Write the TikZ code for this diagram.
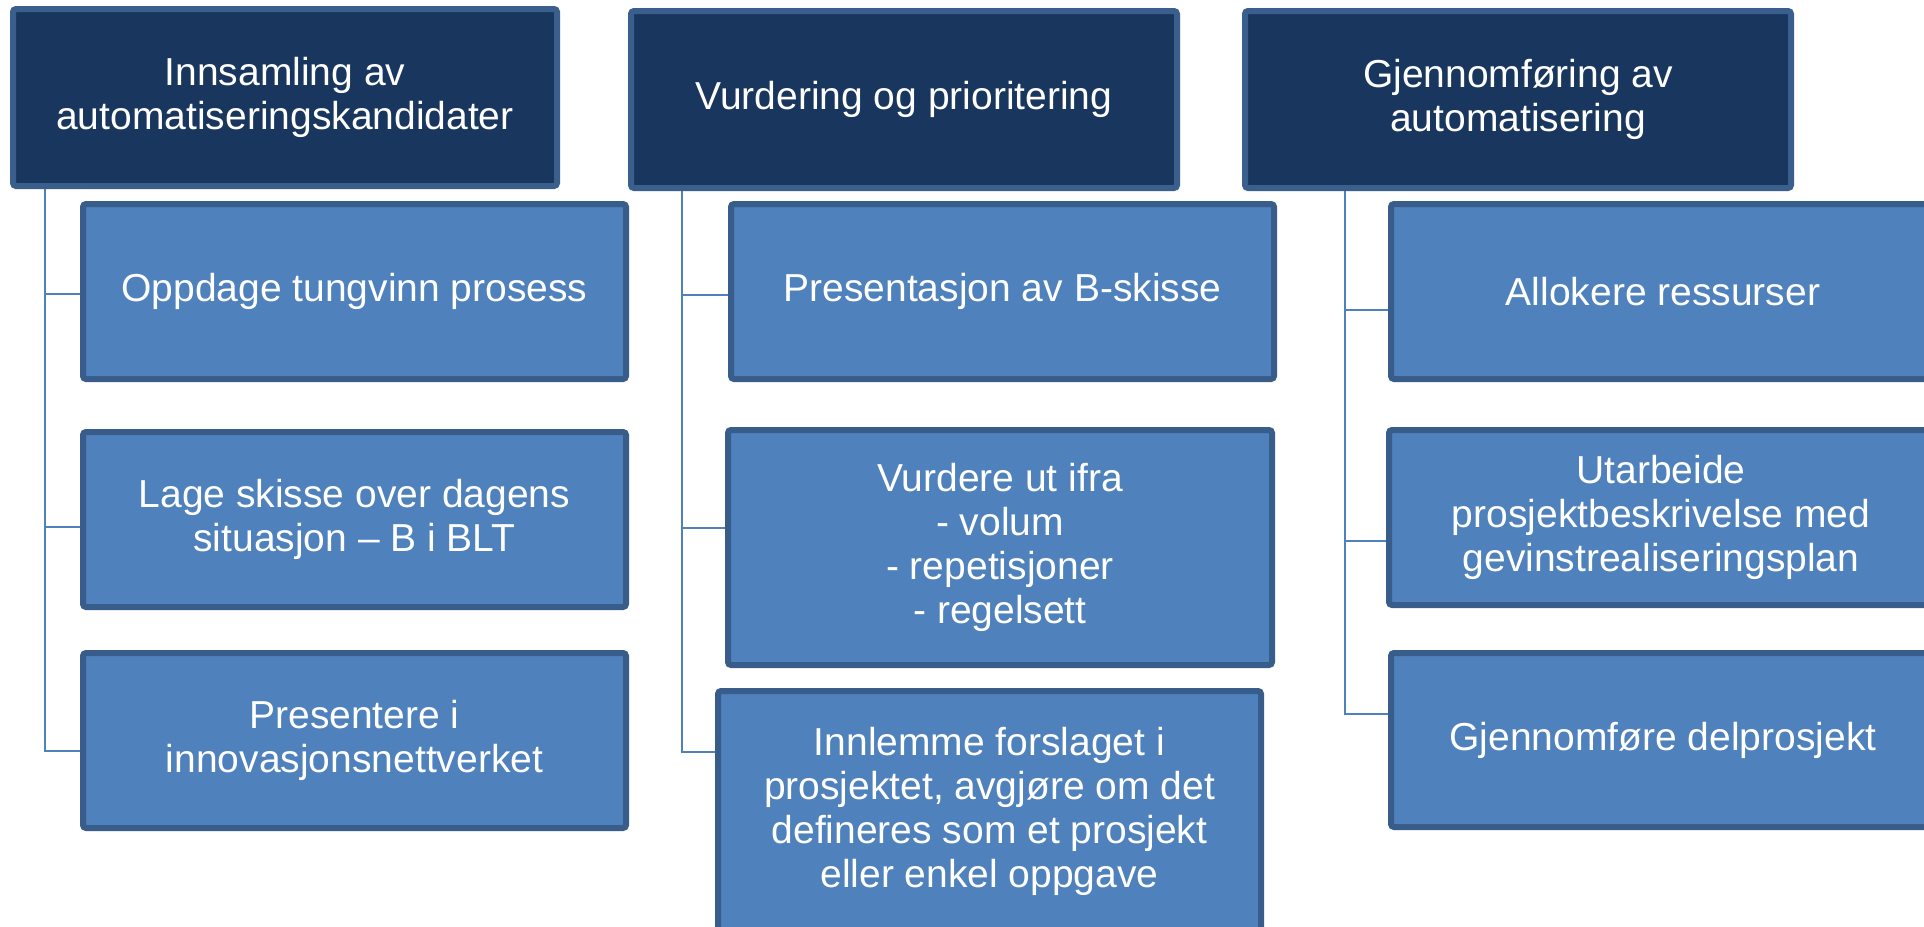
\documentclass[tikz,border=0pt]{standalone}
\usepackage{fontspec}
\setmainfont{Liberation Sans}
\usetikzlibrary{backgrounds}
\definecolor{headfill}{RGB}{24,54,94}
\definecolor{headline}{RGB}{58,95,140}
\definecolor{boxfill}{RGB}{79,129,189}
\definecolor{boxline}{RGB}{56,93,138}
\definecolor{connline}{RGB}{79,129,189}
\begin{document}
\begin{tikzpicture}[x=0.5pt,y=-0.5pt,
  basebox/.style={rectangle, rounded corners=1.5pt, line width=3pt, text=white, align=center,
    font=\fontsize{19.5}{22}\selectfont, inner sep=0pt},
  headbox/.style={basebox, fill=headfill, draw=headline, minimum height=88.5pt},
  subbox/.style={basebox, fill=boxfill, draw=boxline},
  conn/.style={draw=connline, line width=1pt}]
\useasboundingbox (0,0) rectangle (1924,927);
\clip (0,0) rectangle (1924,927);

% headers
\node[headbox, minimum width=272pt] (h1) at (285,97.5) {Innsamling av\\automatiseringskandidater};
\node[headbox, minimum width=273pt] (h2) at (904,99.5) {Vurdering og prioritering};
\node[headbox, minimum width=273pt] (h3) at (1518,99.5) {Gjennomføring av\\automatisering};

% column 1
\node[subbox, minimum width=271.5pt, minimum height=87.5pt] (a1) at (354.5,291.5) {Oppdage tungvinn prosess};
\node[subbox, minimum width=271.5pt, minimum height=87.5pt] (a2) at (354.5,519.5) {Lage skisse over dagens\\situasjon – B i BLT};
\node[subbox, minimum width=271.5pt, minimum height=87.5pt] (a3) at (354.5,740.5) {Presentere i\\innovasjonsnettverket};

% column 2
\node[subbox, minimum width=271.5pt, minimum height=87.5pt] (b1) at (1002.5,291.5) {Presentasjon av B-skisse};
\node[subbox, minimum width=272pt, minimum height=117.5pt] (b2) at (1000,547.5) {Vurdere ut ifra\\- volum\\- repetisjoner\\- regelsett};
\node[subbox, minimum width=271.5pt, minimum height=120.5pt] (b3) at (989.5,811.5) {Innlemme forslaget i\\prosjektet, avgjøre om det\\defineres som et prosjekt\\eller enkel oppgave};

% column 3
\node[subbox, minimum width=272pt, minimum height=87.5pt] (c1) at (1663,291.5) {Allokere ressurser};
\node[subbox, minimum width=272pt, minimum height=87.5pt] (c2) at (1661,517.5) {Utarbeide\\prosjektbeskrivelse med\\gevinstrealiseringsplan};
\node[subbox, minimum width=272pt, minimum height=87pt] (c3) at (1663,740) {Gjennomføre delprosjekt};

\begin{scope}[on background layer]
\fill[white] (0,0) rectangle (1924,927);
\draw[conn] ([xshift=17.5pt]h1.south west) |- ([yshift=-1.25pt]a1.west);
\draw[conn] ([xshift=17.5pt]h1.south west) |- ([yshift=-3.75pt]a2.west);
\draw[conn] ([xshift=17.5pt]h1.south west) |- ([yshift=-5.25pt]a3.west);
\draw[conn] ([xshift=27pt]h2.south west) |- ([yshift=-1.75pt]b1.west);
\draw[conn] ([xshift=27pt]h2.south west) |- ([yshift=9.75pt]b2.west);
\draw[conn] ([xshift=27pt]h2.south west) |- ([yshift=29.75pt]b3.west);
\draw[conn] ([xshift=51.5pt]h3.south west) |- ([yshift=-9.25pt]c1.west);
\draw[conn] ([xshift=51.5pt]h3.south west) |- ([yshift=-11.75pt]c2.west);
\draw[conn] ([xshift=51.5pt]h3.south west) |- ([yshift=13pt]c3.west);
\end{scope}
\end{tikzpicture}
\end{document}
